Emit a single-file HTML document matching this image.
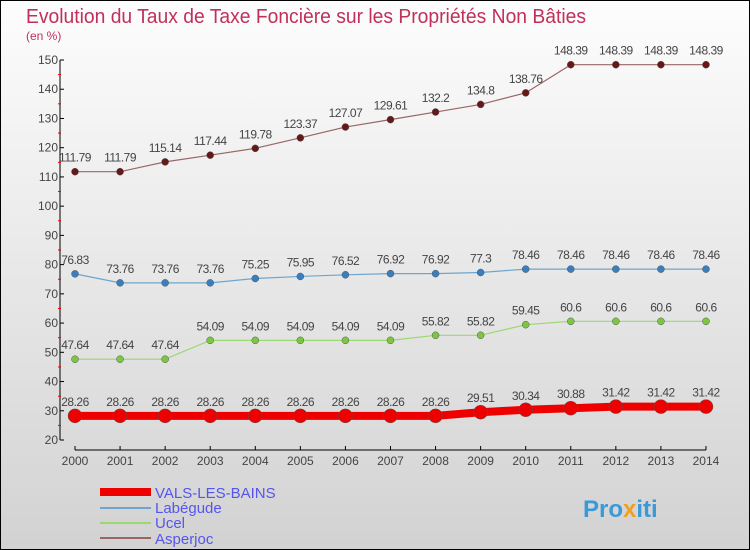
<!DOCTYPE html>
<html><head><meta charset="utf-8"><style>
body{margin:0;width:750px;height:550px;overflow:hidden}
svg{display:block;font-family:"Liberation Sans",sans-serif}
</style></head><body>
<svg id="c" width="750" height="550">
<defs><linearGradient id="bg" x1="0" y1="0" x2="0" y2="1"><stop offset="0" stop-color="#fdfdfd"/><stop offset="1" stop-color="#d2d2d2"/></linearGradient></defs>
<rect x="0.5" y="0.5" width="749" height="549" fill="url(#bg)" stroke="#000"/>
<text x="26" y="23" font-size="20" fill="#c0305a" textLength="560" lengthAdjust="spacingAndGlyphs">Evolution du Taux de Taxe Foncière sur les Propriétés Non Bâties</text>
<text x="26" y="40" font-size="12" fill="#c0305a">(en %)</text>
<g id="axes"></g><g id="series"></g>
<g>
<line x1="100" y1="492" x2="151" y2="492" stroke="#ee0000" stroke-width="8"/>
<text x="155" y="498" font-size="15" fill="#5555ee">VALS-LES-BAINS</text>
<line x1="100" y1="508" x2="151" y2="508" stroke="#6fa5cc" stroke-width="2"/>
<text x="155" y="513" font-size="15" fill="#5555ee">Labégude</text>
<line x1="100" y1="523" x2="151" y2="523" stroke="#9bd870" stroke-width="2"/>
<text x="155" y="528" font-size="15" fill="#5555ee">Ucel</text>
<line x1="100" y1="538" x2="151" y2="538" stroke="#996666" stroke-width="2"/>
<text x="155" y="544" font-size="15" fill="#5555ee">Asperjoc</text>
</g>
<text x="583" y="517" font-size="24" font-weight="bold" fill="#3a9ad8">Pro<tspan fill="#f0a020">x</tspan>iti</text>
</svg>
<script>
const years=["2000","2001","2002","2003","2004","2005","2006","2007","2008","2009","2010","2011","2012","2013","2014"];
const yTicks=[20,30,40,50,60,70,80,90,100,110,120,130,140,150];
const vals=[28.26,28.26,28.26,28.26,28.26,28.26,28.26,28.26,28.26,29.51,30.34,30.88,31.42,31.42,31.42];
const labegude=[76.83,73.76,73.76,73.76,75.25,75.95,76.52,76.92,76.92,77.3,78.46,78.46,78.46,78.46,78.46];
const ucel=[47.64,47.64,47.64,54.09,54.09,54.09,54.09,54.09,55.82,55.82,59.45,60.6,60.6,60.6,60.6];
const asperjoc=[111.79,111.79,115.14,117.44,119.78,123.37,127.07,129.61,132.2,134.8,138.76,148.39,148.39,148.39,148.39];
const NS="http://www.w3.org/2000/svg";
const X=i=>75+i*45.07, Y=v=>440-(v-20)*(380/130);
function mk(t,a,p){const e=document.createElementNS(NS,t);for(const k in a)e.setAttribute(k,a[k]);p.appendChild(e);return e;}
const ax=document.getElementById('axes');
let l=mk('line',{x1:60,y1:Y(150),x2:60,y2:440,stroke:'#000'},ax);


l=mk('line',{x1:75,y1:450,x2:706,y2:450,stroke:'#000'},ax);


yTicks.forEach(v=>{
 mk('line',{x1:60,y1:Y(v),x2:64,y2:Y(v),stroke:'#000'},ax);
 if(v<150)mk('line',{x1:58,y1:Y(v+5),x2:61,y2:Y(v+5),stroke:'#e00'},ax);
 const t=mk('text',{x:58,y:Y(v)+4,'font-size':12,fill:'#444','text-anchor':'end'},ax);t.textContent=v;
 
 
});
years.forEach((y,i)=>{
 mk('line',{x1:X(i),y1:446,x2:X(i),y2:450,stroke:'#000'},ax);
 const t=mk('text',{x:X(i),y:465,'font-size':12,fill:'#444','text-anchor':'middle'},ax);t.textContent=y;
 
 
});
const sg=document.getElementById('series');
function series(d,name,col,dot,w,r){
 const g=mk('g',{},sg);
 
 
 mk('polyline',{points:d.map((v,i)=>X(i)+','+Y(v)).join(' '),fill:'none',stroke:col,'stroke-width':w},g);
 d.forEach((v,i)=>{
  const c=mk('circle',{cx:X(i),cy:Y(v),r:r,fill:dot,stroke:'#555','stroke-width':0.5},g);
  
  
  const t=mk('text',{x:X(i),y:Y(v)-10,'font-size':12,fill:'#444','text-anchor':'middle','letter-spacing':'-0.5'},g);
  t.textContent=v;
  
  
 });
}
series(asperjoc,'asperjoc','#996666','#661818',1.2,3.5);
series(labegude,'labegude','#6fa5cc','#3a7ebf',1.2,3.5);
series(ucel,'ucel','#9bd870','#7cc640',1.2,3.5);
series(vals,'vals','#ee0000','#ee0000',8,7);
</script>
</body></html>
